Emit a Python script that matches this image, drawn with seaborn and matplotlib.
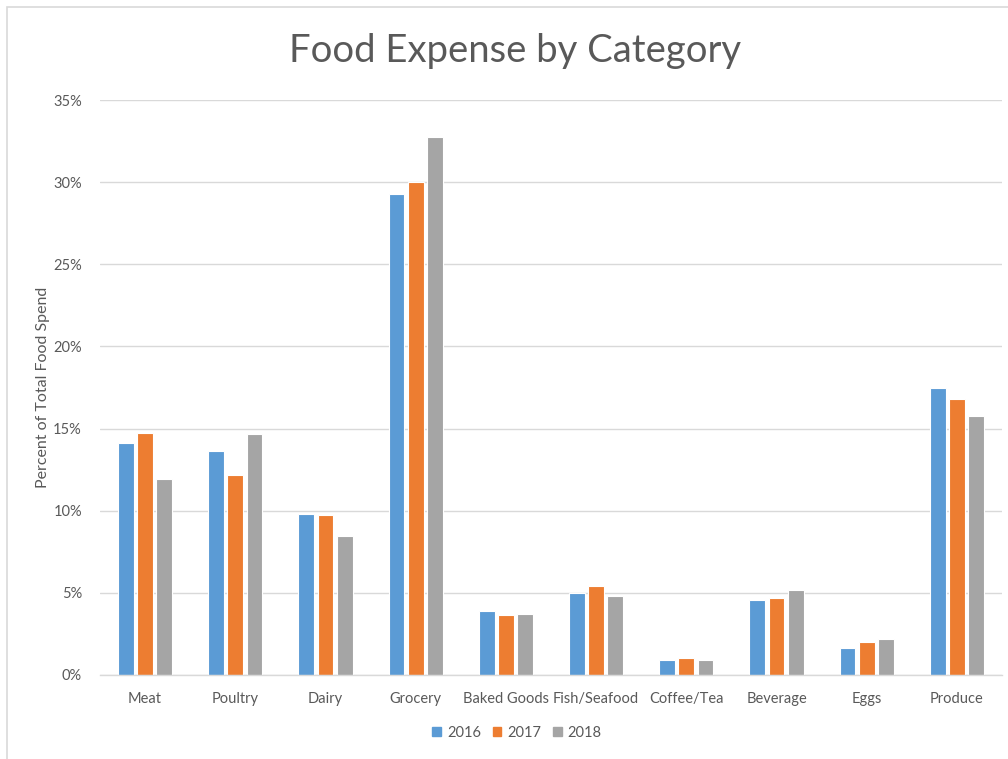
import matplotlib
matplotlib.use("Agg")
import matplotlib.pyplot as plt
import seaborn as sns
import pandas as pd
from matplotlib.ticker import PercentFormatter
from matplotlib.patches import Rectangle

categories = ["Meat", "Poultry", "Dairy", "Grocery", "Baked Goods", "Fish/Seafood",
              "Coffee/Tea", "Beverage", "Eggs", "Produce"]
years = ["2016", "2017", "2018"]
v2016 = [14.1, 13.65, 9.8, 29.3, 3.87, 5.0, 0.89, 4.56, 1.66, 17.5]
v2017 = [14.75, 12.2, 9.72, 30.0, 3.63, 5.42, 1.05, 4.67, 2.0, 16.82]
v2018 = [11.93, 14.68, 8.44, 32.75, 3.71, 4.83, 0.89, 5.17, 2.17, 15.78]
colors = ["#5B9BD5", "#ED7D31", "#A5A5A5"]

rows = []
for yr, vals in zip(years, [v2016, v2017, v2018]):
    for c, v in zip(categories, vals):
        rows.append({"Category": c, "Year": yr, "Value": v})
df = pd.DataFrame(rows)

sns.set_theme(style="white")
plt.rcParams["font.family"] = ["Lato", "DejaVu Sans"]

fig = plt.figure(figsize=(10.08, 7.59), dpi=100)
ax = fig.add_axes([100/1008, 1-675/759, 902/1008, 575/759])

sns.barplot(data=df, x="Category", y="Value", hue="Year", order=categories,
            hue_order=years, palette=colors, saturation=1, width=0.64, gap=0.18,
            edgecolor="white", linewidth=0.8, ax=ax, legend=True)

ax.set_ylim(0, 35)
ax.set_xlim(-0.5, 9.5)
ax.set_yticks(range(0, 36, 5))
ax.yaxis.set_major_formatter(PercentFormatter(decimals=0))
ax.grid(axis="y", color="#D9D9D9", linewidth=1)
ax.set_axisbelow(True)
for s in ["left", "right", "top"]:
    ax.spines[s].set_visible(False)
ax.spines["bottom"].set_color("#D9D9D9")
ax.spines["bottom"].set_linewidth(1)
ax.tick_params(axis="both", length=0, colors="#595959", labelsize=10.5)
ax.tick_params(axis="y", pad=13)
ax.tick_params(axis="x", pad=12)
ax.set_xlabel("")
ax.set_ylabel("Percent of Total Food Spend", color="#595959", fontsize=11.5, labelpad=2)

ax.get_legend().remove()
handles = [Rectangle((0, 0), 1, 1, color=c) for c in colors]
fig.legend(handles, years, loc="center", bbox_to_anchor=(517/1008, 1-733/759),
           ncol=3, frameon=False, handlelength=0.6, handleheight=0.6,
           handletextpad=0.4, columnspacing=0.8, fontsize=10.5, labelcolor="#595959")

fig.text(515/1008, 1-51/759, "Food Expense by Category", ha="center", va="center",
         fontsize=27.5, color="#595959")

fig.patches.append(Rectangle((7/1008, -0.05), 1.1, 1-7/759+0.05, transform=fig.transFigure,
                             fill=False, edgecolor="#D9D9D9", linewidth=1.2))

fig.savefig("out.png", dpi=100)
